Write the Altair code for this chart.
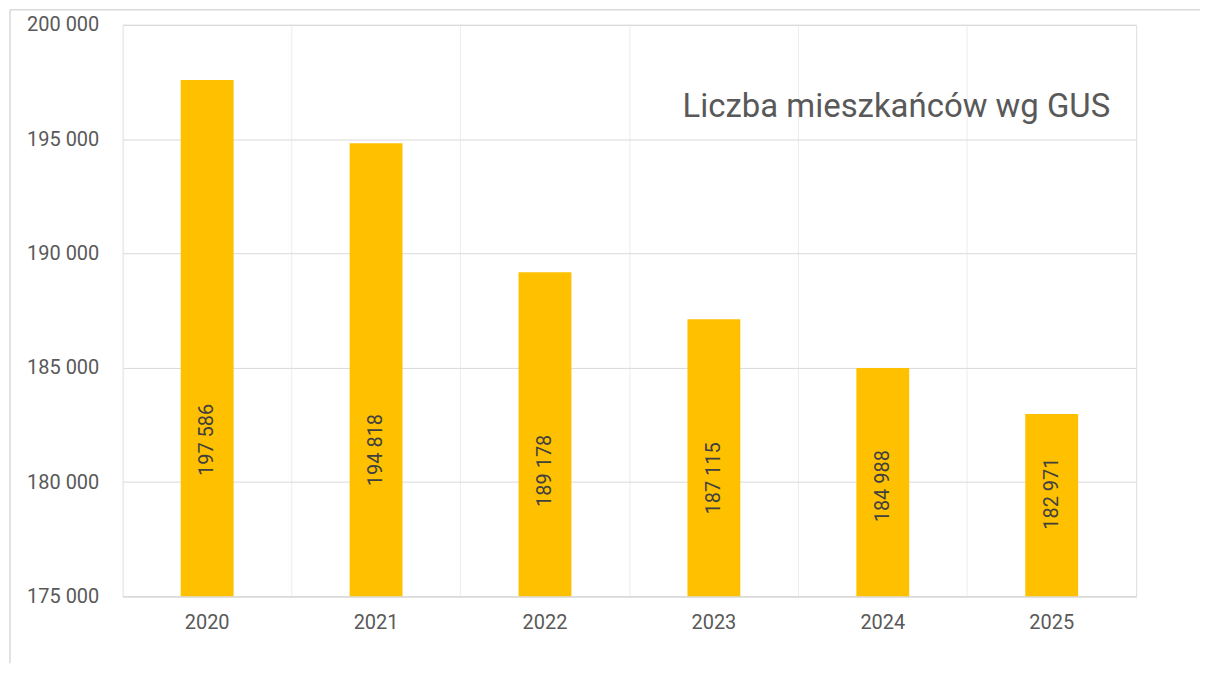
import altair as alt
import pandas as pd

years = ["2020", "2021", "2022", "2023", "2024", "2025"]
values = [197586, 194818, 189178, 187115, 184988, 182971]
y_ticks = [175000, 180000, 185000, 190000, 195000, 200000]
title_text = "Liczba mieszkańców wg GUS"

df = pd.DataFrame({"year": years, "value": values})
one = pd.DataFrame({"k": [0]})

FONT = "Roboto"
GRID_H = "#d9d9d9"
GRID_V = "#ececec"
TXT = "#595959"

base = alt.Chart(df)

x_enc = alt.X(
    "year:N", sort=years, title=None,
    scale=alt.Scale(paddingInner=0, paddingOuter=0),
    axis=alt.Axis(orient="bottom", grid=False, ticks=False, domain=True,
                  domainColor=GRID_H, domainWidth=1.3, labelAngle=0,
                  labelFont=FONT, labelFontSize=20, labelColor=TXT,
                  labelPadding=16),
)
y_enc = alt.Y(
    "value:Q", title=None,
    scale=alt.Scale(domain=[y_ticks[0], y_ticks[-1]], nice=False, zero=False),
    axis=alt.Axis(values=y_ticks, grid=True, gridColor=GRID_H, gridWidth=1,
                  ticks=False, domain=False, labelFont=FONT, labelFontSize=20,
                  labelColor=TXT, labelPadding=24,
                  labelExpr="replace(format(datum.value, ','), ',', ' ')"),
)

bars = base.mark_bar(color="#FFC000", size=53).encode(
    x=x_enc, y=y_enc, y2=alt.datum(y_ticks[0])
)

grid = base.mark_point(opacity=0).encode(
    x=alt.X("year:N", sort=years, title=None,
            axis=alt.Axis(orient="top", grid=True, gridColor=GRID_V, gridWidth=1,
                          bandPosition=0, labels=False, ticks=False,
                          domain=False)),
)

labels = base.transform_calculate(
    lbl="replace(format(datum.value, ','), ',', ' ')",
    pos=f"{y_ticks[0]} + 3209 + 0.161*(datum.value - {y_ticks[0]})",
).mark_text(angle=270, font=FONT, fontSize=20, color="#404040",
            align="center", baseline="middle").encode(
    x=alt.X("year:N", sort=years, axis=None),
    y=alt.Y("pos:Q", title=None),
    text="lbl:N",
)

border_top = alt.Chart(one).mark_rule(color=GRID_H, strokeWidth=1.5).encode(
    x=alt.value(-113), x2=alt.value(1080), y=alt.value(-15)
)
border_left = alt.Chart(one).mark_rule(color=GRID_H, strokeWidth=1.5).encode(
    x=alt.value(-113), y=alt.value(-15), y2=alt.value(640)
)

chart = alt.layer(grid, bars, labels, border_top, border_left).resolve_axis(
    x="independent"
).properties(
    width=1016, height=573,
    padding={"left": 1, "top": 0, "right": 0, "bottom": 0},
    title=alt.TitleParams(title_text, anchor="end", orient="top", frame="group",
                          font=FONT, fontSize=33, fontWeight="normal",
                          color=TXT, dx=-26, dy=115, offset=0),
).configure_view(stroke=GRID_V, strokeWidth=1).configure(background="white")

chart.save("out.html", embed_options={"renderer": "svg", "actions": False})
